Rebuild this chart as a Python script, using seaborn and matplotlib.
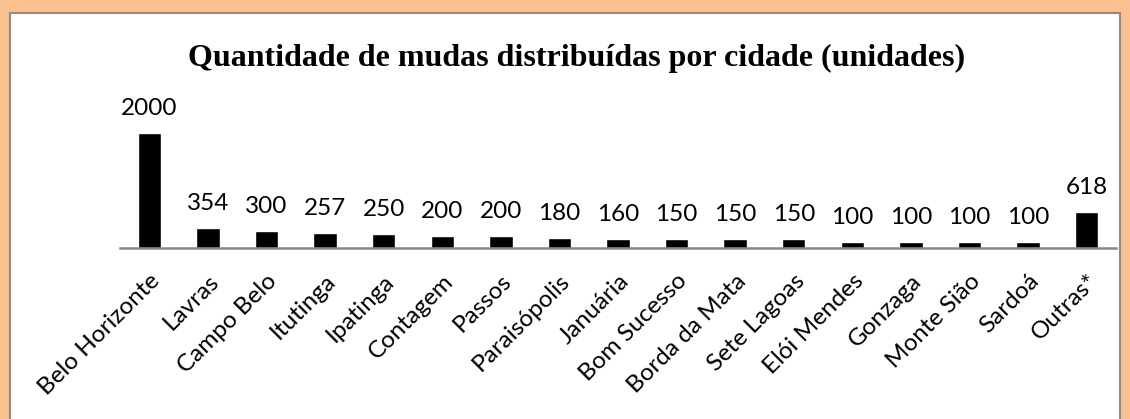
import numpy as np
import matplotlib.pyplot as plt
import seaborn as sns
from matplotlib.patches import Rectangle

# dados
cidades = ['Belo Horizonte', 'Lavras', 'Campo Belo', 'Itutinga', 'Ipatinga', 'Contagem',
           'Passos', 'Paraisópolis', 'Januária', 'Bom Sucesso', 'Borda da Mata',
           'Sete Lagoas', 'Elói Mendes', 'Gonzaga', 'Monte Sião', 'Sardoá', 'Outras*']
mudas = [2000, 354, 300, 257, 250, 200, 200, 180, 160, 150, 150, 150, 100, 100, 100, 100, 618]
titulo = 'Quantidade de mudas distribuídas por cidade (unidades)'

sns.set_style('white')
plt.rcParams['font.family'] = ['Lato', 'DejaVu Sans']
plt.rcParams['text.color'] = 'black'
plt.rcParams['xtick.color'] = 'black'

W, H = 1130, 419
fig = plt.figure(figsize=(W / 100, H / 100), dpi=100, facecolor='#FAC08F')

# painel branco
fig.patches.append(Rectangle((10 / W, -0.05), 1110 / W, 1.05 - 13 / H,
                             transform=fig.transFigure, facecolor='white',
                             edgecolor='#8C8C8C', linewidth=1.5, zorder=-1))

ax = fig.add_axes([120 / W, (H - 248) / H, (1116 - 120) / W, 115 / H])
ax.set_zorder(1)
ax.set_facecolor('none')
sns.barplot(x=cidades, y=mudas, color='black', width=0.4, saturation=1, ax=ax)
ax.set_xlim(-0.5, len(cidades) - 0.5)
ax.set_ylim(0, 2000)

# rótulos de valor acima das barras
for i, v in enumerate(mudas):
    ax.annotate(str(v), (i, v), xytext=(0, 13), textcoords='offset points',
                ha='center', va='baseline', fontsize=17.5, annotation_clip=False)

for s in ['top', 'left', 'right']:
    ax.spines[s].set_visible(False)
ax.spines['bottom'].set_color('#868686')
ax.spines['bottom'].set_linewidth(1.8)
ax.set_yticks([])
ax.tick_params(axis='x', length=0, pad=16)
ax.set_xticks(range(len(cidades)))
ax.set_xticklabels(cidades, rotation=45, ha='right', rotation_mode='anchor', fontsize=17.5)
ax.set_xlabel('')
ax.set_ylabel('')

fig.text(577 / W, 1 - 58 / H, titulo, ha='center', va='center', fontsize=23,
         fontweight='bold', family='Liberation Serif')

fig.savefig('out.png', dpi=100, facecolor=fig.get_facecolor())
